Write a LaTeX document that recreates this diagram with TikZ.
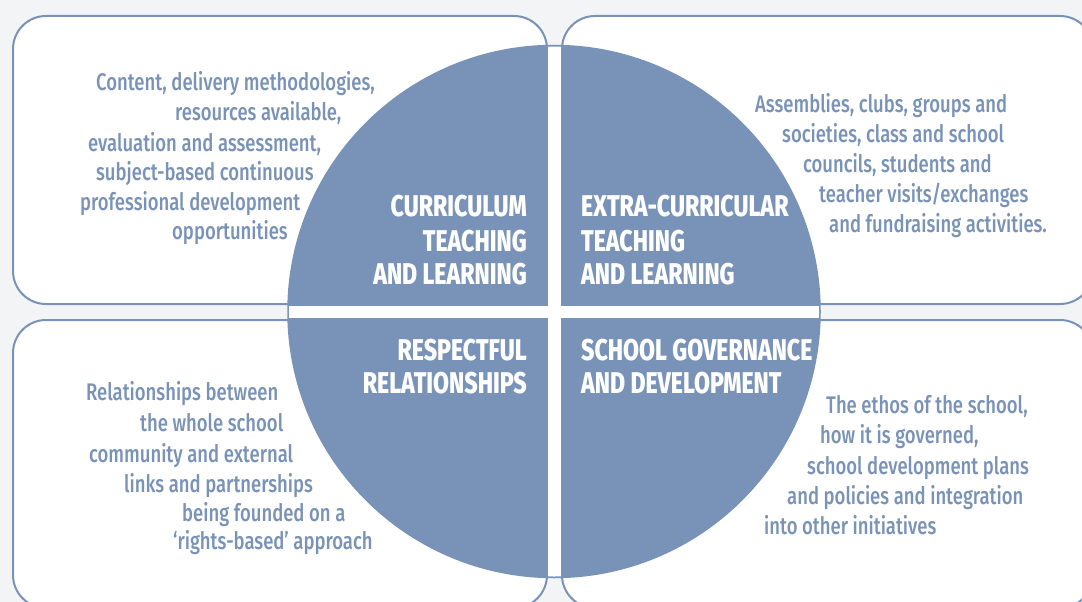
\documentclass[tikz,border=0pt]{standalone}
\usepackage{fontspec}
\setmainfont{Fira Sans}
\IfFontExistsTF{Fira Sans Medium}
  {\newfontfamily\bodyfont[FakeStretch=0.77]{Fira Sans Medium}}
  {\newfontfamily\bodyfont[FakeStretch=0.77]{Fira Sans}}
\IfFontExistsTF{Fira Sans ExtraBold}
  {\newfontfamily\headfont[FakeStretch=0.77]{Fira Sans ExtraBold}}
  {\newfontfamily\headfont[FakeStretch=0.77,FakeBold=1]{Fira Sans Bold}}
\definecolor{ringblue}{RGB}{121,146,183}
\definecolor{paper}{RGB}{243,244,246}
\tikzset{
  panel/.style={draw=ringblue, line width=2pt, fill=white, rounded corners=33pt},
  blurb/.style={anchor=base west, inner sep=0pt, text=ringblue,
    font=\bodyfont\fontsize{24}{28}\selectfont},
  headr/.style={anchor=base east, inner sep=0pt, text=white,
    font=\headfont\fontsize{30}{34}\selectfont},
  headl/.style={headr, anchor=base west}
}
\begin{document}
\begin{tikzpicture}[x=1pt,y=-1pt]
  \fill[paper] (0,0) rectangle (1082,602);
  \useasboundingbox (0,0) rectangle (1082,602);

  % the four panels
  \draw[panel] (13,16) rectangle (547,304);
  \draw[panel] (562,16) rectangle (1093,304);
  \draw[panel] (13,320) rectangle (547,608);
  \draw[panel] (562,320) rectangle (1093,608);

  % the disc and its white cross
  \draw[ringblue, fill=ringblue, line width=1.5pt] (554,311.5) circle (266);
  \begin{scope}
    \clip (554,311.5) circle (265);
    \fill[white] (548,40) rectangle (561,585);
    \fill[white] (280,306) rectangle (830,318);
  \end{scope}

  % headings
  \node[headr] (cur1) at (527,216) {CURRICULUM};
  \node[headr] (cur2) at (527,251) {TEACHING};
  \node[headr] (cur3) at (527,284) {AND LEARNING};
  \node[headl] (ext1) at (581,216) {EXTRA-CURRICULAR};
  \node[headl] (ext2) at (581,251) {TEACHING};
  \node[headl] (ext3) at (581,284) {AND LEARNING};
  \node[headr] (res1) at (527,360) {RESPECTFUL};
  \node[headr] (res2) at (527,393) {RELATIONSHIPS};
  \node[headl] (gov1) at (581,360) {SCHOOL GOVERNANCE};
  \node[headl] (gov2) at (581,393) {AND DEVELOPMENT};

  % descriptions, one line each
  \foreach \x/\y/\t [count=\i] in {96/90/{Content, delivery methodologies,},
      175/120/{resources available,}, 88/151/{evaluation and assessment,},
      96/180/{subject-based continuous}, 80/210/{professional development},
      172/239/{opportunities}}
    \node[blurb] (curtext\i) at (\x,\y) {\t};

  \foreach \x/\y/\t [count=\i] in {755/112/{Assemblies, clubs, groups and},
      782/142/{societies, class and school}, 803/172/{councils, students and},
      819/202/{teacher visits/exchanges}, 829/232/{and fundraising activities.}}
    \node[blurb] (exttext\i) at (\x,\y) {\t};

  \foreach \x/\y/\t [count=\i] in {86/400/{Relationships between},
      140/431/{the whole school}, 89/462/{community and external},
      124/492/{links and partnerships}, 182/521/{being founded on a},
      173/549/{‘rights-based’ approach}}
    \node[blurb] (restext\i) at (\x,\y) {\t};

  \foreach \x/\y/\t [count=\i] in {826/413/{The ethos of the school,},
      820/443/{how it is governed,}, 807/474/{school development plans},
      787/504/{and policies and integration}, 764/534/{into other initiatives}}
    \node[blurb] (govtext\i) at (\x,\y) {\t};
\end{tikzpicture}
\end{document}
